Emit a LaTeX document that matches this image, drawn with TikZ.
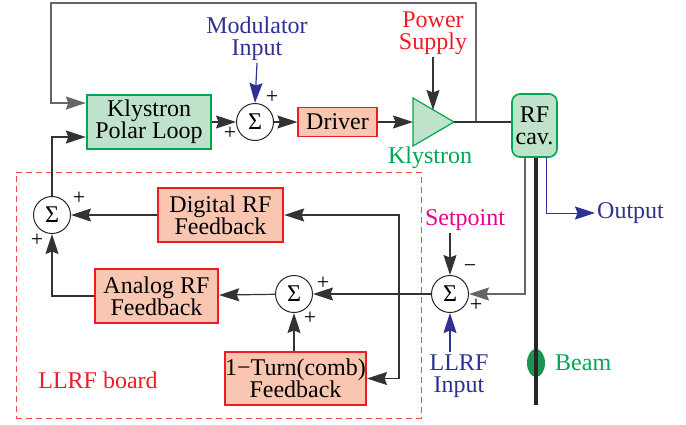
\documentclass[tikz,border=0pt]{standalone}
\usepackage{fontspec}
\setmainfont{Liberation Serif}
\usepackage{xcolor}
\usepackage{tikz}
\usetikzlibrary{
arrows.meta,
positioning,
shapes.geometric,
calc
}

\definecolor{boxgreen}{HTML}{BFE3CA}
\definecolor{edgegreen}{HTML}{00A651}
\definecolor{boxsalmon}{HTML}{F9C6B1}
\definecolor{edgered}{HTML}{ED1C24}
\definecolor{txtblue}{HTML}{2E3192}
\definecolor{txtpink}{HTML}{EC008C}
\definecolor{beamgreen}{HTML}{1A9650}

\begin{document}
\begin{tikzpicture}[
x=1pt,
y=-1pt,
every node/.style={
font=\fontsize{24}{22}\selectfont,
align=center,
inner sep=2pt
},
line/.style={draw=black!80, line width=1.2pt},
arrow/.style={line, -{Stealth[length=20pt,width=13pt,inset=2.5pt]}},
greenbox/.style={draw=edgegreen, fill=boxgreen, line width=2.4pt, inner sep=0pt},
redbox/.style={draw=edgered, fill=boxsalmon, line width=2.4pt, inner sep=0pt},
sumnode/.style={
draw=black!85,
circle,
fill=white,
minimum size=37pt,
inner sep=0pt,
line width=1pt,
font=\fontsize{24}{24}\selectfont
},
sign/.style={font=\fontsize{22}{22}\selectfont, inner sep=0pt}
]

\useasboundingbox (0,0) rectangle (686,424);

\node[draw=edgered!80, dashed, dash pattern=on 6pt off 4pt, line width=1pt,
minimum width=405pt, minimum height=246pt] (board) at (218.5,295) {};
\node[text=edgered] (boardlbl) at (98,380) {LLRF board};

\node[greenbox, minimum width=124pt, minimum height=54pt] (kpl) at (149,122) {Klystron\\Polar Loop};
\node[sumnode] (sumA) at (255,122) {Σ};
\node[redbox, line width=1.2pt, minimum width=79pt, minimum height=29pt] (drv) at (337.5,122) {Driver};
\coordinate (klyin) at (413,122);
\coordinate (klyout) at (454,122);
\coordinate (klytop) at (433,110);
\draw[draw=edgegreen, fill=boxgreen, line width=1.2pt] (413,98) -- (klyout) -- (413,146) -- cycle;
\node[text=edgegreen] (klylbl) at (430,158) {Klystron};
\node[text=edgered] (psup) at (433,33) {Power\\Supply};
\node[text=txtblue] (modin) at (257,39) {Modulator\\Input};
\node[draw=edgegreen, fill=boxgreen, line width=1.6pt, rounded corners=8pt, inner sep=0pt,
minimum width=45pt, minimum height=63pt] (cav) at (534.5,125.5) {RF\\cav.};

\node[redbox, minimum width=125pt, minimum height=54pt] (drf) at (220.5,215) {Digital RF\\Feedback};
\node[redbox, minimum width=123pt, minimum height=54pt] (arf) at (156.5,296) {Analog RF\\Feedback};
\node[redbox, minimum width=135pt, minimum height=53pt] (comb) at (295.5,378.5) {1−Turn(comb)\\Feedback};

\node[sumnode] (sumB) at (294,294) {Σ};
\node[sumnode] (sumC) at (52,215) {Σ};
\node[sumnode] (sumD) at (450,294) {Σ};

\node[text=txtpink] (setp) at (465,220) {Setpoint};
\node[text=txtblue] (llrfin) at (459,376) {LLRF\\Input};
\node[text=txtblue, anchor=west] (outp) at (595,213) {Output};

\node[fill=beamgreen, ellipse, minimum width=18pt, minimum height=28pt, inner sep=0pt] (bunch) at (536,363) {};
\node[text=edgegreen, anchor=west] (beamlbl) at (553,363) {Beam};

\coordinate (tap) at (476,122);
\coordinate (topleft) at (51,3);
\coordinate (split) at (399,294);
\coordinate (beamend) at (536,405);

\draw[arrow, draw=black!60] (tap) |- (topleft) |- ([yshift=19pt]kpl.west);
\draw[arrow] (kpl) -- (sumA);
\draw[arrow] (sumA) -- (drv);
\draw[arrow] (drv) -- (klyin);
\draw[line] (klyout) -- (klyout -| cav.west);
\draw[arrow, draw=txtblue] (modin.south) -- (sumA.north);
\draw[arrow] (psup.south) -- (klytop);

\draw[line width=4pt, black!85] (beamend |- cav.south) -- (beamend);
\draw[arrow, draw=black!60] ([xshift=-9.5pt]cav.south) |- (sumD);
\draw[arrow, draw=txtblue, line width=1pt] ([xshift=11.5pt]cav.south) |- (outp);

\draw[arrow] (setp.south -| sumD) -- (sumD);
\draw[arrow, draw=txtblue] (llrfin.north -| sumD) -- (sumD);
\draw[arrow] (sumD) -- (sumB);
\draw[arrow] (split) |- (drf);
\draw[arrow] (split) |- (comb);
\draw[arrow] (sumB) -- (arf);
\draw[arrow] (comb.north -| sumB) -- (sumB);
\draw[arrow] (drf) -- (sumC);
\draw[arrow] (arf) -| (sumC);
\draw[arrow] (sumC) |- ([yshift=-15pt]kpl.west);

\node[sign] at (272,97) {+};
\node[sign] at (230,133) {+};
\node[sign] at (470,269) {−};
\node[sign] at (476,305) {+};
\node[sign] at (323,283) {+};
\node[sign] at (310,318) {+};
\node[sign] at (79,198) {+};
\node[sign] at (37,240) {+};

\end{tikzpicture}
\end{document}
